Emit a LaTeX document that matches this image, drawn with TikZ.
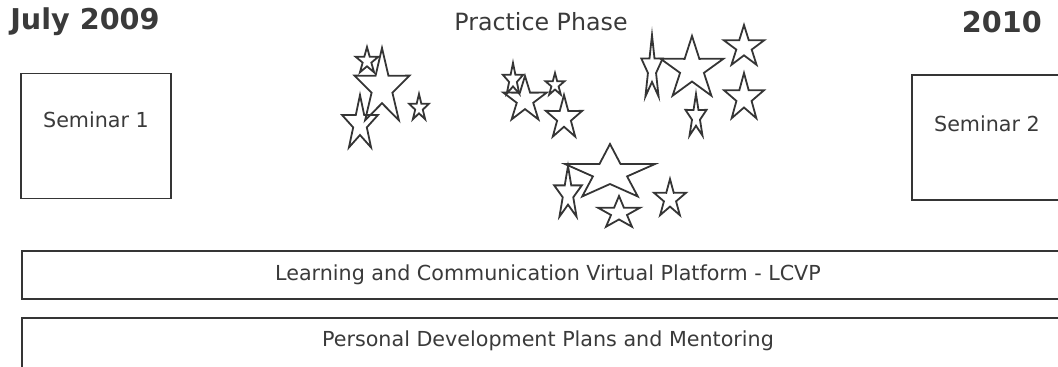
\documentclass[tikz,border=0pt]{standalone}
\usepackage{fontspec}
\setmainfont{DejaVu Sans}
\usepackage{tikz}
\usetikzlibrary{positioning}
\definecolor{linegray}{HTML}{353535}
\definecolor{textgray}{HTML}{3A3A3A}
\tikzset{seminarbox/.style={shape=rectangle, minimum width=112.5pt, minimum height=93.75pt, inner sep=0pt, draw=linegray, line width=1.4pt},
  barbox/.style={shape=rectangle, minimum width=789pt, minimum height=36pt, inner sep=0pt, draw=linegray, line width=1.4pt},
  boxtext/.style={text=textgray, font=\fontsize{15.5}{18}\selectfont, inner sep=0pt},
  yeartext/.style={text=textgray, font=\fontsize{21.5}{24}\selectfont\bfseries, inner sep=0pt},
  phasetext/.style={text=textgray, font=\fontsize{17.8}{20}\selectfont, inner sep=0pt},
  starline/.style={draw=linegray, line width=1.35pt, line join=miter}}

\begin{document}
\begin{tikzpicture}[x=0.75pt, y=-0.75pt]
    \useasboundingbox (0,0) rectangle (1058,367);
    \clip (0,0) rectangle (1058,367);

    % headings
    \node[yeartext, anchor=west] (start) at (10,22) {July 2009};
    \node[yeartext, anchor=east] (end) at (1042,22) {2010};
    \node[phasetext] (phase) at (541,22) {Practice Phase};

    % seminars
    \node[seminarbox] (sem1) at (96,136) {};
    \node[boxtext, yshift=12pt] (sem1text) at (sem1.center) {Seminar 1};
    \node[seminarbox] (sem2) at (987,137.5) {};
    \node[boxtext, yshift=10pt] (sem2text) at (sem2.center) {Seminar 2};

    % stars
    \foreach \cx/\cy/\r/\sx in {367/61/14/0.86, 382/88/40/0.72, 360/124/29/0.65, 419/108/14/0.75,
      513/80/17/0.63, 525/100/24/0.95, 555/85/12/0.83, 564/118/23/0.83,
      652/69/34/0.33, 692/69/33/1.0, 744/47/22/0.97, 744/98/25/0.84, 696/117/23/0.48,
      610/173/29/1.63, 568/194/28/0.52, 619/213/17/1.3, 670/199/20/0.84}{
      \draw[starline, shift={(\cx,\cy)}, xscale=\sx]
        (-90:\r) -- (-54:0.38*\r) -- (-18:\r) -- (18:0.38*\r) -- (54:\r)
        -- (90:0.38*\r) -- (126:\r) -- (162:0.38*\r) -- (198:\r) -- (234:0.38*\r) -- cycle;
    }

    % platform bars
    \node[barbox] (lcvp) at (548,275) {};
    \node[boxtext] (lcvptext) at (lcvp.center) {Learning and Communication Virtual Platform - LCVP};
    \node[barbox, minimum height=42pt] (pdp) at (548,346) {};
    \node[boxtext, yshift=4pt] (pdptext) at (pdp.center) {Personal Development Plans and Mentoring};
\end{tikzpicture}
\end{document}
